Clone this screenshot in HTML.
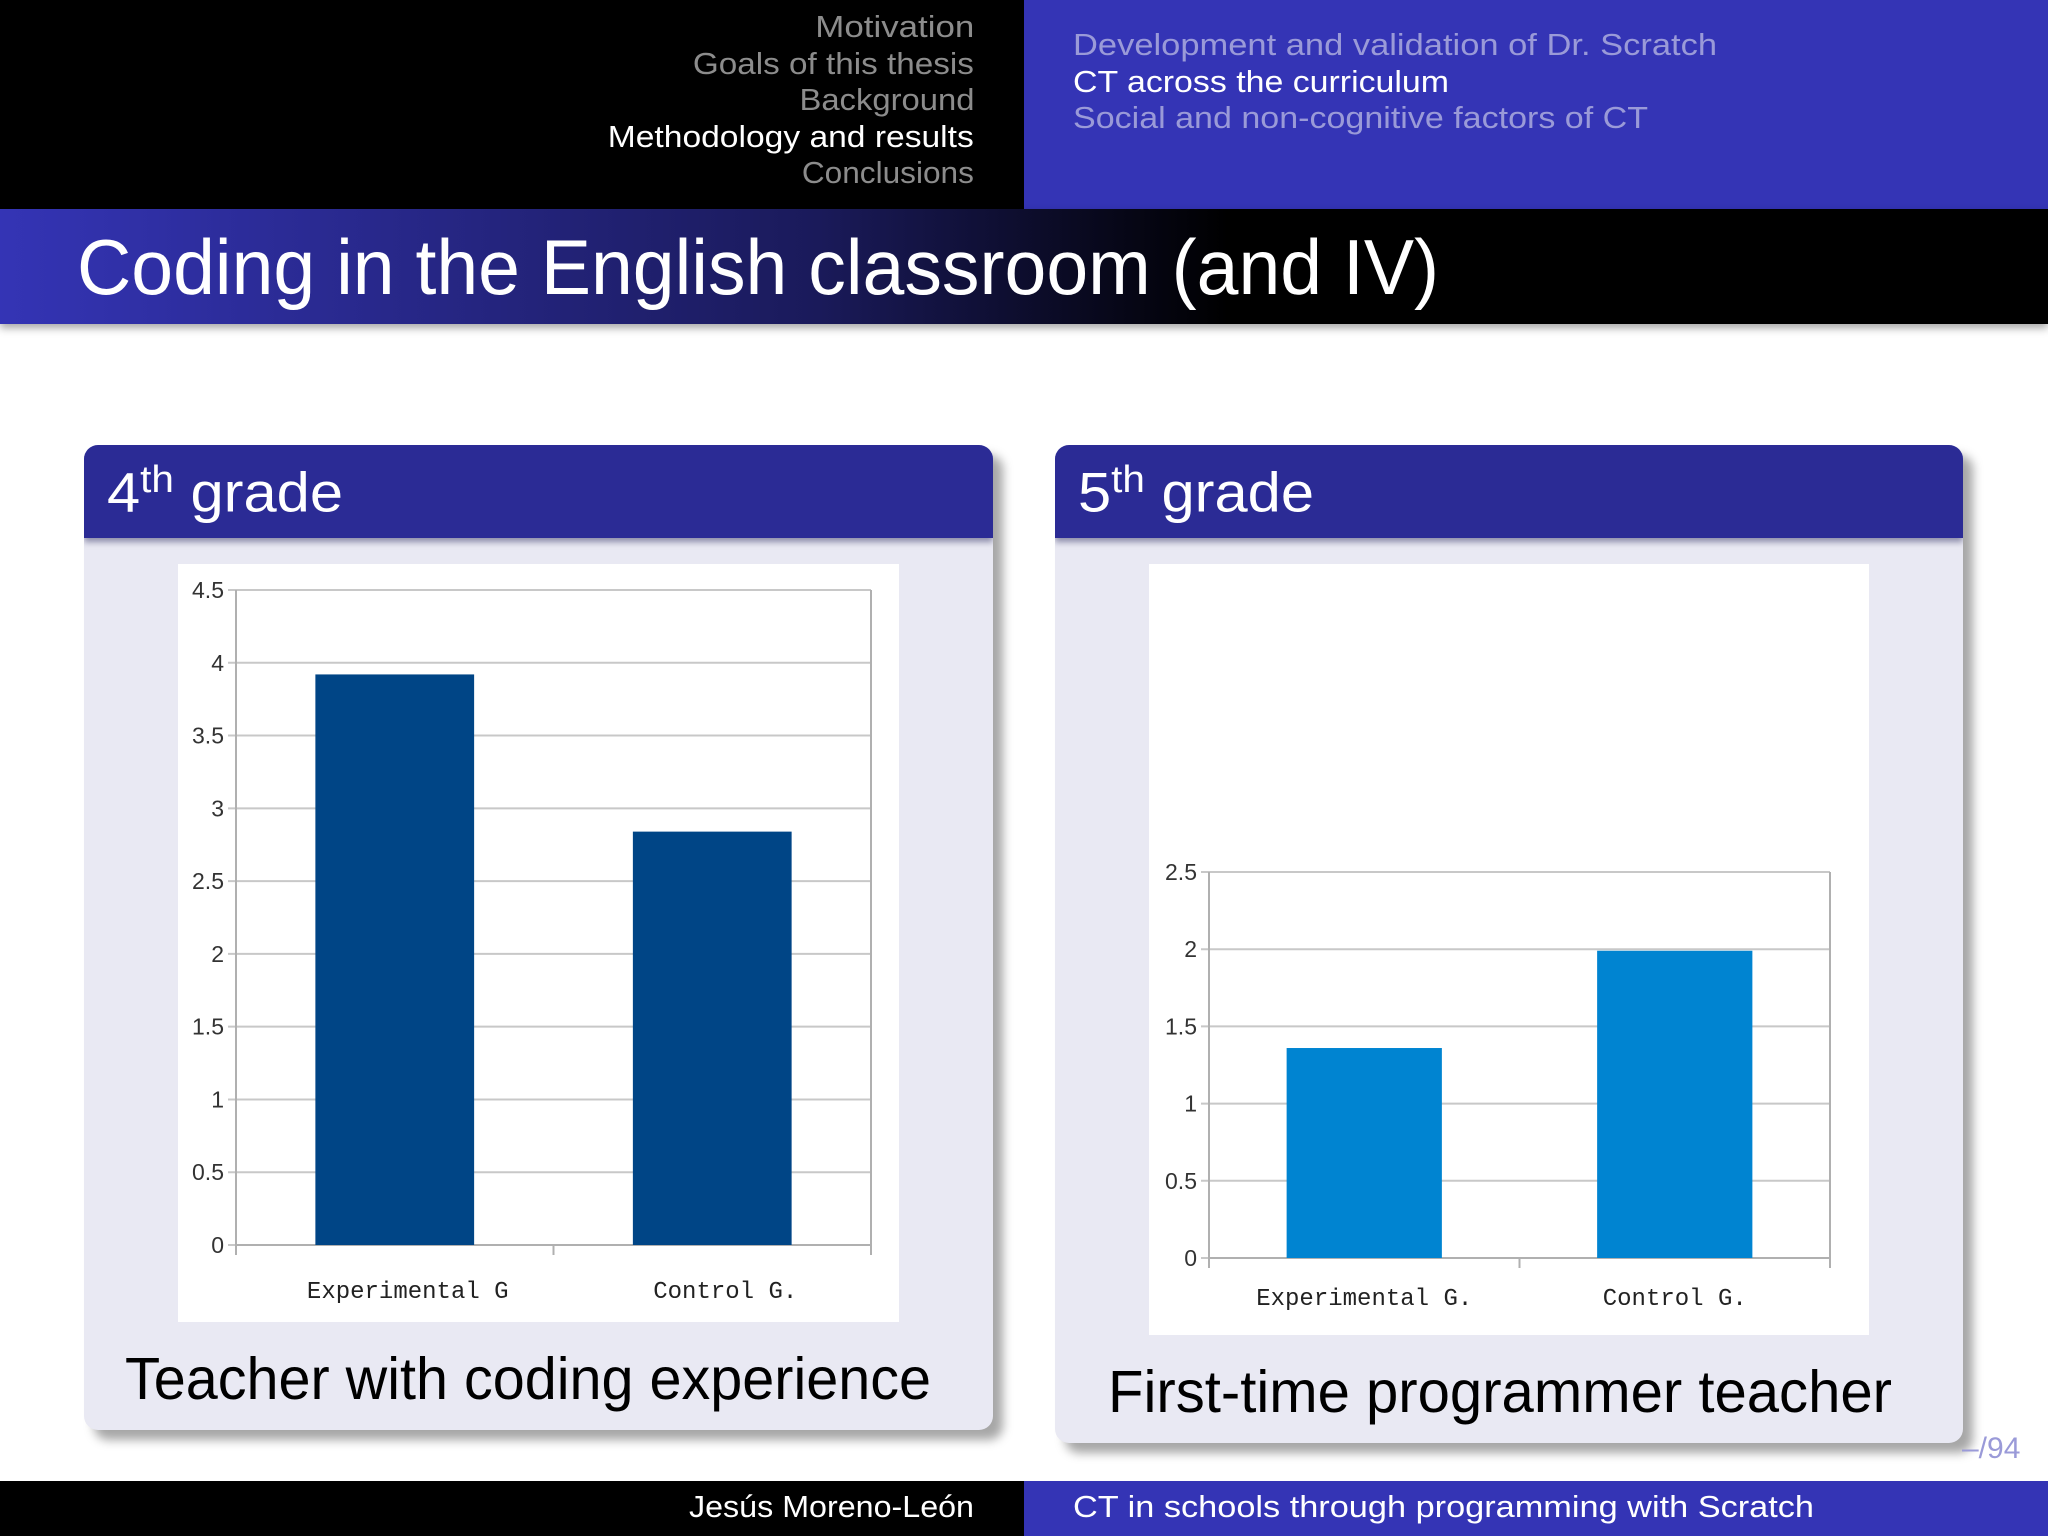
<!DOCTYPE html>
<html><head><meta charset="utf-8"><style>
body{margin:0;width:2048px;height:1536px;position:relative;background:#fff;font-family:"Liberation Sans",sans-serif;overflow:hidden}
.a{position:absolute}
.nav{font-size:31px;line-height:36.5px;white-space:nowrap}
.f{display:inline-block;white-space:nowrap}
.blk{position:absolute;border-radius:14px;background:#e9e9f3;box-shadow:10px 10px 10px rgba(0,0,0,.35);overflow:hidden}
.bh{position:absolute;left:0;top:0;right:0;height:93px;background:#2b2b95;color:#fff;font-size:56px;box-shadow:0 4px 6px rgba(0,0,60,.4)}
</style></head><body>
<div class="a" style="left:0;top:0;width:1024px;height:209px;background:#000"></div>
<div class="a" style="left:1024px;top:0;width:1024px;height:209px;background:#3434b5"></div>
<div class="a nav" style="right:1074px;top:9px;text-align:right;color:#8c8c8c">
<div><span class="f" data-w="159" data-o="right">Motivation</span></div>
<div><span class="f" data-w="281" data-o="right">Goals of this thesis</span></div>
<div><span class="f" data-w="175" data-o="right">Background</span></div>
<div><span class="f" data-w="366" data-o="right" style="color:#fff">Methodology and results</span></div>
<div><span class="f" data-w="172" data-o="right">Conclusions</span></div>
</div>
<div class="a nav" style="left:1073px;top:27px;color:#9a9ad8">
<div><span class="f" data-w="644">Development and validation of Dr. Scratch</span></div>
<div><span class="f" data-w="376" style="color:#fff">CT across the curriculum</span></div>
<div><span class="f" data-w="575">Social and non-cognitive factors of CT</span></div>
</div>
<div class="a" style="left:0;top:209px;width:2048px;height:115px;background:linear-gradient(90deg,#3434b5 0%,#1a1a5a 40%,#000 60%,#000 100%);box-shadow:0 4px 8px rgba(0,0,0,.35)"></div>
<div class="a" style="left:77px;top:222px;font-size:78px;color:#fff"><span class="f" data-w="1362">Coding in the English classroom (and IV)</span></div>

<div class="blk" style="left:84px;top:445px;width:909px;height:985px">
<div class="bh"><span class="f" data-w="236" style="position:absolute;left:23px;top:14px">4<sup style="font-size:38px">th</sup> grade</span></div>
<div class="a" style="left:41px;top:900px;font-size:59px;color:#000"><span class="f" data-w="806">Teacher with coding experience</span></div>
</div>
<div class="blk" style="left:1055px;top:445px;width:908px;height:998px">
<div class="bh"><span class="f" data-w="236" style="position:absolute;left:23px;top:14px">5<sup style="font-size:38px">th</sup> grade</span></div>
<div class="a" style="left:53px;top:913px;font-size:59px;color:#000"><span class="f" data-w="784">First-time programmer teacher</span></div>
</div>

<svg class="a" style="left:0;top:0" width="2048" height="1536">
<g id="c1"></g>
<g id="c2"></g>
</svg>

<div class="a" style="left:0;top:1481px;width:1024px;height:55px;background:#000"></div>
<div class="a" style="left:1024px;top:1481px;width:1024px;height:55px;background:#3434b5"></div>
<div class="a" style="right:1074px;top:1489px;font-size:31px;color:#fff"><span class="f" data-w="285" data-o="right">Jesús Moreno-León</span></div>
<div class="a" style="left:1073px;top:1489px;font-size:31px;color:#fff"><span class="f" data-w="741">CT in schools through programming with Scratch</span></div>
<div class="a" style="left:1962px;top:1432px;font-size:30px;color:#9a9ad8">–/94</div>

<script>
const cats1=["Experimental G","Control G."];
const vals1=[3.92,2.84];
const ticks1=[0,0.5,1,1.5,2,2.5,3,3.5,4,4.5];
const cats2=["Experimental G.","Control G."];
const vals2=[1.36,1.99];
const ticks2=[0,0.5,1,1.5,2,2.5];
const NS="http://www.w3.org/2000/svg";
function mk(p,t,a){const e=document.createElementNS(NS,t);for(const k in a)e.setAttribute(k,a[k]);p.appendChild(e);return e;}
function chart(g,box,plot,cats,vals,ticks,color,labY,labDx,name){
  const bg=mk(g,'rect',{x:box[0],y:box[1],width:box[2],height:box[3],fill:'#fff'});
  
  
  const [x0,x1,yTop,yBot]=plot;const max=ticks[ticks.length-1];
  const y=v=>yBot-(v/max)*(yBot-yTop);
  const band=(x1-x0)/cats.length;
  ticks.forEach(t=>{
    const l=mk(g,'line',{x1:x0-8,x2:x1,y1:y(t),y2:y(t),stroke:'#c8c8c8','stroke-width':2});
    
    
    const tx=mk(g,'text',{x:x0-12,y:y(t)+8,'text-anchor':'end','font-size':23,fill:'#333','font-family':'Liberation Sans, sans-serif'});
    tx.textContent=String(t);
    
    
  });
  const ax=mk(g,'path',{d:`M${x0} ${yTop}V${yBot+10}M${x0} ${yBot}H${x1}V${yTop}`,stroke:'#b0b0b0','stroke-width':2,fill:'none'});
  
  
  for(let i=0;i<=cats.length;i++){
    const tk=mk(g,'line',{x1:x0+band*i,x2:x0+band*i,y1:yBot,y2:yBot+10,stroke:'#b0b0b0','stroke-width':2});
    
    
  }
  cats.forEach((c,i)=>{
    const bw=band*0.5,bx=x0+band*i+band*0.25;
    const r=mk(g,'rect',{x:bx,y:y(vals[i]),width:bw,height:yBot-y(vals[i]),fill:color});
    
    
    const t=mk(g,'text',{x:x0+band*(i+0.5)+labDx,y:labY,'text-anchor':'middle','font-size':24,fill:'#222','font-family':'Liberation Mono, monospace'});
    t.textContent=c;
    
    
  });
}
chart(document.getElementById('c1'),[178,564,721,758],[236,871,590,1245],cats1,vals1,ticks1,'#004586',1298,13,'chart-4th');
chart(document.getElementById('c2'),[1149,564,720,771],[1209,1830,872,1258],cats2,vals2,ticks2,'#0084d1',1305,0,'chart-5th');
document.querySelectorAll('[data-w]').forEach(el=>{
  const w=el.getBoundingClientRect().width;
  const s=parseFloat(el.getAttribute('data-w'))/w;
  el.style.transformOrigin=(el.getAttribute('data-o')||'left')+' center';
  el.style.transform='scaleX('+s+')';
});
</script>
</body></html>
